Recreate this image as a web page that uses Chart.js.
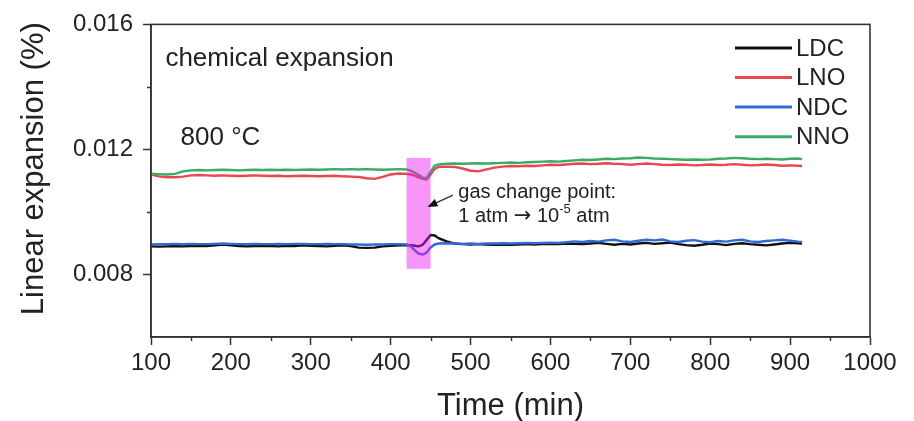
<!DOCTYPE html>
<html>
<head>
<meta charset="utf-8">
<script src="https://cdn.jsdelivr.net/npm/chart.js@4.4.1/dist/chart.umd.min.js"></script>
<style>
  html, body { margin: 0; padding: 0; background: #ffffff; }
  #c { display: block; }
</style>
</head>
<body>
<canvas id="c" width="914" height="421"></canvas>
<script>
// ---------------- data ----------------
const times = [100,110,120,130,140,150,160,170,180,190,200,210,220,230,240,250,260,270,280,290,300,310,320,330,340,350,360,370,380,390,400,410,
  420,425,430,435,440,445,450,455,460,
  470,480,490,500,510,520,530,540,550,560,570,580,590,600,610,620,630,640,650,660,670,680,690,700,710,720,730,740,750,760,770,780,790,800,810,820,830,840,850,860,870,880,890,900,910,
  915];

const LDC = [0.00890,0.00889,0.00890,0.00891,0.00890,0.00891,0.00892,0.00891,0.00893,0.00896,0.00893,0.00891,0.00890,0.00891,0.00892,0.00891,0.00890,0.00892,0.00891,0.00893,0.00892,0.00891,0.00890,0.00892,0.00893,0.00891,0.00886,0.00885,0.00886,0.00890,0.00892,0.00893,
  0.00893,0.00894,0.00892,0.00890,0.00895,0.00910,0.00926,0.00925,0.00916,
  0.00906,0.00899,0.00897,0.00896,0.00897,0.00896,0.00895,0.00896,0.00895,0.00896,0.00897,0.00896,0.00897,0.00898,0.00897,0.00899,0.00898,0.00897,0.00899,0.00901,0.00898,0.00895,0.00898,0.00896,0.00899,0.00901,0.00898,0.00900,0.00902,0.00897,0.00894,0.00892,0.00895,0.00899,0.00897,0.00894,0.00898,0.00900,0.00897,0.00895,0.00893,0.00896,0.00899,0.00901,0.00900,
  0.00899];

const LNO = [0.01120,0.01114,0.01111,0.01111,0.01113,0.01117,0.01118,0.01117,0.01116,0.01117,0.01116,0.01115,0.01116,0.01117,0.01116,0.01115,0.01116,0.01114,0.01115,0.01116,0.01115,0.01114,0.01115,0.01116,0.01114,0.01113,0.01112,0.01108,0.01106,0.01112,0.01120,0.01123,
  0.01122,0.01120,0.01116,0.01111,0.01106,0.01104,0.01120,0.01138,0.01144,
  0.01145,0.01144,0.01139,0.01132,0.01130,0.01136,0.01142,0.01145,0.01147,0.01146,0.01148,0.01147,0.01149,0.01151,0.01150,0.01152,0.01154,0.01155,0.01153,0.01154,0.01156,0.01154,0.01153,0.01151,0.01153,0.01155,0.01153,0.01151,0.01150,0.01152,0.01151,0.01149,0.01150,0.01152,0.01150,0.01151,0.01153,0.01151,0.01149,0.01150,0.01152,0.01150,0.01148,0.01149,0.01148,
  0.01147];

const NDC = [0.00896,0.00897,0.00897,0.00898,0.00897,0.00898,0.00897,0.00897,0.00898,0.00899,0.00898,0.00897,0.00897,0.00898,0.00897,0.00897,0.00898,0.00897,0.00898,0.00898,0.00897,0.00897,0.00898,0.00897,0.00897,0.00896,0.00896,0.00895,0.00896,0.00896,0.00897,0.00897,
  0.00896,0.00890,0.00878,0.00867,0.00864,0.00870,0.00886,0.00896,0.00899,
  0.00900,0.00899,0.00898,0.00899,0.00898,0.00899,0.00899,0.00900,0.00899,0.00900,0.00901,0.00900,0.00901,0.00902,0.00901,0.00903,0.00906,0.00904,0.00907,0.00905,0.00909,0.00911,0.00906,0.00904,0.00908,0.00911,0.00909,0.00912,0.00906,0.00904,0.00908,0.00910,0.00905,0.00903,0.00907,0.00905,0.00909,0.00911,0.00906,0.00904,0.00907,0.00909,0.00911,0.00908,0.00905,
  0.00904];

const NNO = [0.01122,0.01121,0.01120,0.01122,0.01130,0.01133,0.01134,0.01133,0.01134,0.01135,0.01134,0.01133,0.01134,0.01135,0.01134,0.01135,0.01134,0.01135,0.01134,0.01135,0.01136,0.01135,0.01136,0.01137,0.01136,0.01137,0.01136,0.01137,0.01136,0.01135,0.01136,0.01137,
  0.01136,0.01132,0.01126,0.01118,0.01110,0.01108,0.01128,0.01148,0.01152,
  0.01154,0.01155,0.01154,0.01155,0.01156,0.01155,0.01156,0.01157,0.01158,0.01157,0.01159,0.01160,0.01161,0.01162,0.01161,0.01163,0.01165,0.01167,0.01166,0.01168,0.01170,0.01169,0.01171,0.01172,0.01174,0.01173,0.01171,0.01170,0.01169,0.01168,0.01167,0.01168,0.01167,0.01168,0.01170,0.01171,0.01173,0.01172,0.01170,0.01169,0.01170,0.01169,0.01168,0.01170,0.01171,
  0.01169];

const seriesNames = ['LDC', 'LNO', 'NDC', 'NNO'];
const seriesColors = ['#111111', '#e8474f', '#2f6bd3', '#3aaa66'];
const xTickValues = [100,200,300,400,500,600,700,800,900,1000];
const yTickValues = [0.008, 0.012, 0.016];
const xMinorTicks = [150,250,350,450,550,650,750,850,950];
const yMinorTicks = [0.010, 0.014];
const gasBand = { from: 420, to: 450, top: 0.01173, bottom: 0.00818 };

// ---------------- chart ----------------
const FONT = '"Liberation Sans", Arial, sans-serif';
const INK = '#222222';
const AXIS = '#333333';

const seriesValues = [LDC, LNO, NDC, NNO];
const drawOrder = [3, 2, 0, 1]; // NDC over LDC, NNO over LNO

const datasets = seriesNames.map((name, i) => ({
  label: name,
  data: times.map((t, k) => ({ x: t, y: seriesValues[i][k] })),
  borderColor: seriesColors[i],
  backgroundColor: seriesColors[i],
  borderWidth: 2.4,
  pointRadius: 0,
  tension: 0,
  fill: false,
  order: drawOrder[i]
}));

const deco = {
  id: 'deco',
  afterDatasetsDraw(chart) {
    const { ctx, scales: { x, y } } = chart;
    ctx.save();
    ctx.fillStyle = 'rgba(240, 20, 240, 0.45)';
    const x0 = x.getPixelForValue(gasBand.from), x1 = x.getPixelForValue(gasBand.to);
    const y0 = y.getPixelForValue(gasBand.top), y1 = y.getPixelForValue(gasBand.bottom);
    ctx.fillRect(x0, y0, x1 - x0, y1 - y0);
    ctx.restore();
  },
  afterDraw(chart) {
    const { ctx, chartArea: a, scales: { x, y } } = chart;
    ctx.save();
    // frame
    ctx.strokeStyle = AXIS;
    ctx.lineWidth = 1.6;
    ctx.strokeRect(a.left, a.top, a.right - a.left, a.bottom - a.top);
    // minor ticks
    ctx.lineWidth = 1.4;
    ctx.beginPath();
    xMinorTicks.forEach(v => {
      const px = Math.round(x.getPixelForValue(v)) + 0.5;
      ctx.moveTo(px, a.bottom); ctx.lineTo(px, a.bottom + 4);
    });
    yMinorTicks.forEach(v => {
      const py = Math.round(y.getPixelForValue(v)) + 0.5;
      ctx.moveTo(a.left, py); ctx.lineTo(a.left - 4, py);
    });
    ctx.stroke();

    // axis titles
    ctx.fillStyle = INK;
    ctx.font = '31px ' + FONT;
    ctx.textAlign = 'center';
    ctx.textBaseline = 'alphabetic';
    ctx.fillText('Time (min)', (a.left + a.right) / 2, a.bottom + 78);
    ctx.save();
    ctx.translate(a.left - 108, (a.top + a.bottom) / 2 - 12);
    ctx.rotate(-Math.PI / 2);
    ctx.fillText('Linear expansion (%)', 0, 0);
    ctx.restore();

    // annotations
    ctx.textAlign = 'left';
    ctx.font = '26px ' + FONT;
    ctx.fillText('chemical expansion', x.getPixelForValue(118), y.getPixelForValue(0.01466));
    ctx.fillText('800 °C', x.getPixelForValue(137), y.getPixelForValue(0.012147));

    const gx = x.getPixelForValue(484.6);
    ctx.font = '20px ' + FONT;
    ctx.fillText('gas change point:', gx, y.getPixelForValue(0.010443));
    const by = y.getPixelForValue(0.009689);
    const pieces = [
      { t: '1 atm ', f: '20px ' + FONT, dy: 0 },
      { t: '\u2192', f: '21px "DejaVu Sans", ' + FONT, dy: 0 },
      { t: ' 10', f: '20px ' + FONT, dy: 0 },
      { t: '-5', f: '13px ' + FONT, dy: -9 },
      { t: ' atm', f: '20px ' + FONT, dy: 0 }
    ];
    let cx = gx;
    pieces.forEach(p => {
      ctx.font = p.f;
      ctx.fillText(p.t, cx, by + p.dy);
      cx += ctx.measureText(p.t).width;
    });

    // arrow
    const sx = x.getPixelForValue(478), sy = y.getPixelForValue(0.01054);
    const tx = x.getPixelForValue(446), ty = y.getPixelForValue(0.01016);
    const ang = Math.atan2(ty - sy, tx - sx);
    ctx.strokeStyle = '#333';
    ctx.lineWidth = 1.3;
    ctx.beginPath();
    ctx.moveTo(sx, sy);
    ctx.lineTo(tx - 6 * Math.cos(ang), ty - 6 * Math.sin(ang));
    ctx.stroke();
    ctx.fillStyle = '#111';
    ctx.beginPath();
    ctx.moveTo(tx, ty);
    ctx.lineTo(tx - 10 * Math.cos(ang) + 4 * Math.sin(ang), ty - 10 * Math.sin(ang) - 4 * Math.cos(ang));
    ctx.lineTo(tx - 10 * Math.cos(ang) - 4 * Math.sin(ang), ty - 10 * Math.sin(ang) + 4 * Math.cos(ang));
    ctx.closePath();
    ctx.fill();

    // legend
    ctx.font = '24px ' + FONT;
    ctx.textBaseline = 'middle';
    seriesNames.forEach((name, i) => {
      const ly = a.top + 23.5 + i * 29.6;
      ctx.strokeStyle = seriesColors[i];
      ctx.lineWidth = 3;
      ctx.beginPath();
      ctx.moveTo(735, ly); ctx.lineTo(792, ly);
      ctx.stroke();
      ctx.fillStyle = INK;
      ctx.fillText(name, 796, ly + 1);
    });
    ctx.restore();
  }
};

new Chart(document.getElementById('c'), {
  type: 'line',
  data: { datasets },
  options: {
    responsive: false,
    animation: false,
    devicePixelRatio: 1,
    layout: { padding: { top: 19, right: 44, left: 0, bottom: 0 } },
    plugins: { legend: { display: false }, tooltip: { enabled: false } },
    scales: {
      x: {
        type: 'linear',
        min: 100, max: 1000,
        afterBuildTicks(scale) { scale.ticks = xTickValues.map(v => ({ value: v })); },
        afterFit(scale) { scale.height = 84; },
        grid: { display: true, drawOnChartArea: false, drawTicks: true, tickLength: 8, tickWidth: 1.5, color: AXIS },
        border: { display: true, width: 1.6, color: AXIS },
        ticks: { color: INK, font: { family: FONT, size: 24 }, padding: 4, maxRotation: 0, autoSkip: false,
                 callback: v => String(v) }
      },
      y: {
        type: 'linear',
        min: 0.006, max: 0.016,
        afterBuildTicks(scale) { scale.ticks = yTickValues.map(v => ({ value: v })); },
        afterFit(scale) { scale.width = 151; },
        grid: { display: true, drawOnChartArea: false, drawTicks: true, tickLength: 8, tickWidth: 1.5, color: AXIS },
        border: { display: true, width: 1.6, color: AXIS },
        ticks: { color: INK, font: { family: FONT, size: 24 }, padding: 10, autoSkip: false,
                 callback: v => Number(v).toFixed(3) }
      }
    }
  },
  plugins: [deco]
});
</script>
</body>
</html>
